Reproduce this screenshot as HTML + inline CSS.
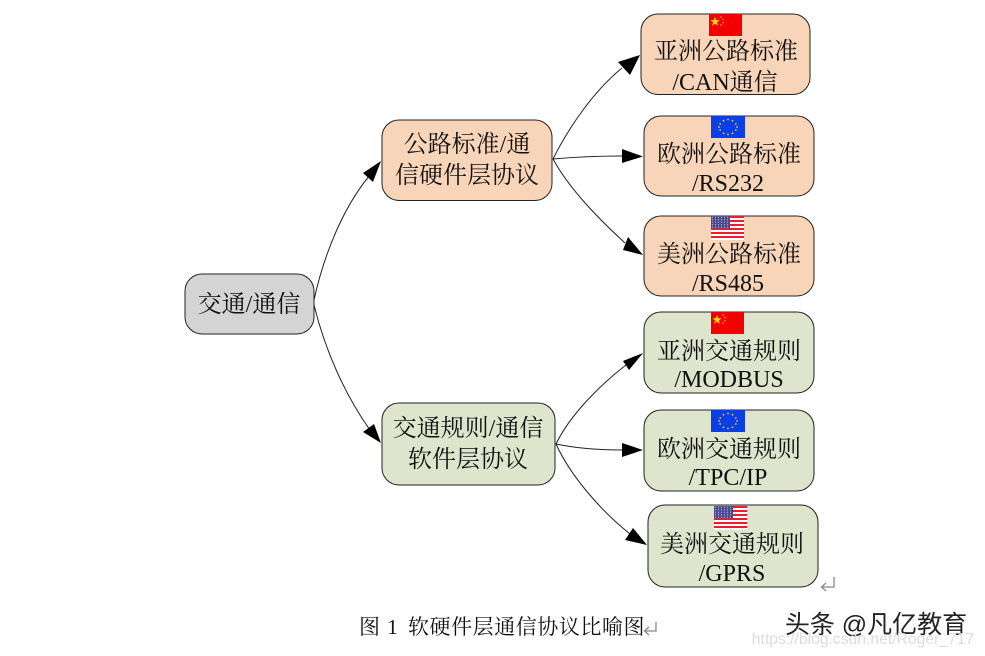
<!DOCTYPE html>
<html lang="zh">
<head>
<meta charset="utf-8">
<style>
html,body{margin:0;padding:0;background:#fff;width:985px;height:656px;overflow:hidden}
svg{display:block}
text{font-family:"Liberation Serif","Noto Serif CJK SC",serif;fill:#111;text-anchor:middle;font-size:24px}
.box{stroke:#222;stroke-width:1}
.edge{fill:none;stroke:#222;stroke-width:1}
.head{fill:#000;stroke:none}
</style>
</head>
<body>
<svg width="985" height="656" viewBox="0 0 985 656" xmlns="http://www.w3.org/2000/svg">
<defs>
<pattern id="stars" width="3" height="2.500" patternUnits="userSpaceOnUse">
<rect width="3" height="2.500" fill="#4a4a8c"/>
<circle cx="1.500" cy="1.250" r=".6" fill="#b8b8d8"/>
</pattern>
<g id="cn">
<rect width="33" height="22" fill="#f40000"/>
<polygon points="6,3 7.2,6.3 10.6,6.3 7.9,8.4 8.9,11.7 6,9.7 3.1,11.7 4.1,8.4 1.4,6.3 4.800,6.3" fill="#ffe000"/>
<circle cx="12" cy="3" r=".8" fill="#ffc000"/><circle cx="14" cy="5.500" r=".8" fill="#ffc000"/><circle cx="14" cy="8.500" r=".8" fill="#ffc000"/><circle cx="12" cy="11" r=".8" fill="#ffc000"/>
</g>
<g id="eu">
<rect width="34" height="22" fill="#0a3fe8"/>
<g fill="#e8d020">
<circle cx="17" cy="3.500" r=".9"/><circle cx="21.500" cy="4.700" r=".9"/><circle cx="24.800" cy="8" r=".9"/><circle cx="26" cy="11" r=".9"/><circle cx="24.800" cy="14" r=".9"/><circle cx="21.500" cy="17.300" r=".9"/><circle cx="17" cy="18.500" r=".9"/><circle cx="12.500" cy="17.300" r=".9"/><circle cx="9.200" cy="14" r=".9"/><circle cx="8" cy="11" r=".9"/><circle cx="9.200" cy="8" r=".9"/><circle cx="12.500" cy="4.700" r=".9"/>
</g>
</g>
<g id="us">
<rect width="33" height="24" fill="#fff"/>
<g fill="#ee1c2e">
<rect y="0" width="33" height="2"/><rect y="4" width="33" height="2"/><rect y="8" width="33" height="2"/><rect y="12" width="33" height="2"/><rect y="16" width="33" height="2"/><rect y="20" width="33" height="2"/>
</g>
<rect width="19" height="12.500" fill="url(#stars)"/>
</g>
</defs>

<!-- connectors -->
<path class="edge" d="M314,300 C325,250 345,205 370,175"/>
<polygon class="head" points="381,161 373,182 363,173"/>
<path class="edge" d="M314,305 C325,350 345,395 370,430"/>
<polygon class="head" points="381,443 363,432 374,424"/>

<path class="edge" d="M553,159 C570,125 595,90 622,68"/>
<polygon class="head" points="640,55 630,75 618,62"/>
<path class="edge" d="M553,159 C575,157 600,156 622,156"/>
<polygon class="head" points="643,156.500 622,163 622,149"/>
<path class="edge" d="M553,159 C570,190 600,220 625,243"/>
<polygon class="head" points="643,255 623,250 628,237"/>

<path class="edge" d="M556,444 C570,415 600,385 626,365"/>
<polygon class="head" points="643,353 629,370 623,361"/>
<path class="edge" d="M556,444 C575,448 600,450 622,450"/>
<polygon class="head" points="643,450 622,457 622,443"/>
<path class="edge" d="M556,444 C570,475 600,510 630,534"/>
<polygon class="head" points="647,545 625,540 633,528"/>

<!-- nodes -->
<rect class="box" x="185" y="274" width="129" height="60" rx="17" fill="#d4d4d4"/>
<rect class="box" x="382" y="120" width="170" height="80.500" rx="17" fill="#f8d5b8"/>
<rect class="box" x="382" y="403" width="173" height="82" rx="17" fill="#dfe4cc"/>
<rect class="box" x="641" y="14" width="169" height="80.500" rx="17" fill="#f8d5b8"/>
<rect class="box" x="644" y="116" width="170" height="80" rx="17" fill="#f8d5b8"/>
<rect class="box" x="644" y="216" width="170" height="80" rx="17" fill="#f8d5b8"/>
<rect class="box" x="644" y="312" width="170" height="81" rx="17" fill="#dfe4cc"/>
<rect class="box" x="644" y="410" width="170" height="81" rx="17" fill="#dfe4cc"/>
<rect class="box" x="648" y="505" width="170" height="82" rx="17" fill="#dfe4cc"/>

<!-- flags -->
<use href="#cn" x="709" y="14"/>
<use href="#eu" x="711" y="116"/>
<use href="#us" x="711" y="216"/>
<use href="#cn" x="711" y="312"/>
<use href="#eu" x="711" y="410"/>
<use href="#us" x="714" y="506"/>

<!-- labels -->
<text x="249" y="312">交通/通信</text>
<text x="467" y="152">公路标准/通</text>
<text x="467" y="183">信硬件层协议</text>
<text x="468" y="436">交通规则/通信</text>
<text x="468" y="467">软件层协议</text>
<text x="726" y="59">亚洲公路标准</text>
<text x="725" y="90">/CAN通信</text>
<text x="729" y="162">欧洲公路标准</text>
<text x="728" y="191">/RS232</text>
<text x="729" y="262">美洲公路标准</text>
<text x="728" y="291">/RS485</text>
<text x="729" y="359">亚洲交通规则</text>
<text x="729" y="387">/MODBUS</text>
<text x="729" y="457">欧洲交通规则</text>
<text x="728" y="485">/TPC/IP</text>
<text x="732" y="552">美洲交通规则</text>
<text x="732" y="581">/GPRS</text>

<!-- caption -->
<text x="359" y="634" style="text-anchor:start;font-size:21px;word-spacing:2px">图 1</text>
<text x="408" y="634" style="text-anchor:start;font-size:21px;letter-spacing:.55px">软硬件层通信协议比喻图</text>

<!-- return marks -->
<g fill="none" stroke="#888" stroke-width="1.300">
<path d="M834,577 V587 H822 M826,583 L821.500,587 L826,591"/>
<path d="M656,622 V631 H645 M649,627 L644.500,631 L649,635"/>
</g>

<!-- watermarks -->
<text x="876" y="633" style="font-family:'Liberation Sans','Noto Sans CJK SC',sans-serif;font-size:25px;fill:#222">头条 @凡亿教育</text>
<text x="863" y="644" style="font-family:'Liberation Sans',sans-serif;font-size:15.700px;fill:#dcdcdc">https://blog.csdn.net/Roger_717</text>
</svg>
</body>
</html>
